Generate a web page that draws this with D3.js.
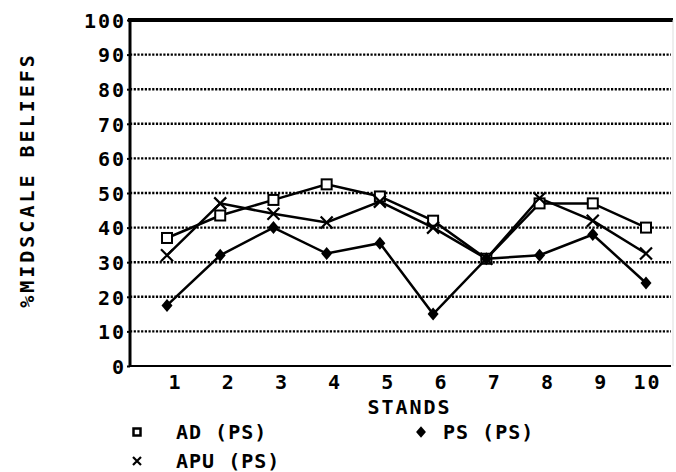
<!DOCTYPE html>
<html>
<head>
<meta charset="utf-8">
<script src="https://cdn.jsdelivr.net/npm/d3@7"></script>
<style>
  body { margin: 0; background: #fff; }
  text { font-family: "DejaVu Sans Mono", monospace; font-weight: bold; fill: #000; }
</style>
</head>
<body>
<div id="chart"></div>
<script>
// data
let stands = [1, 2, 3, 4, 5, 6, 7, 8, 9, 10];
let adPS  = [37, 43.5, 48, 52.5, 49, 42, 31, 47, 47, 40];
let apuPS = [32, 47, 44, 41.5, 47.5, 40, 31, 48.5, 42, 32.5];
let psPS  = [17.5, 32, 40, 32.5, 35.5, 15, 31, 32, 38, 24];
let yTicks = [0, 10, 20, 30, 40, 50, 60, 70, 80, 90, 100];

let svgWidth = 676;
let svgHeight = 472;

let margin = { top: 20, right: 5, bottom: 106, left: 130 };
let width = svgWidth - margin.left - margin.right;
let height = svgHeight - margin.top - margin.bottom;

let svg = d3.select("#chart")
    .append("svg")
    .attr("width", svgWidth)
    .attr("height", svgHeight);

let chartGroup = svg.append("g")
    .attr("transform", `translate(${margin.left}, ${margin.top})`);

// scales
let xScale = d3.scaleLinear()
    .domain([1, 10])
    .range([37, 516]);

let yScale = d3.scaleLinear()
    .domain([0, 100])
    .range([height, 0]);

// dotted gridlines
chartGroup.selectAll(".grid")
    .data(yTicks.filter(d => d > 0 && d < 100))
    .join("line")
    .attr("x1", 0)
    .attr("x2", width)
    .attr("y1", d => yScale(d))
    .attr("y2", d => yScale(d))
    .attr("stroke", "#000")
    .attr("stroke-width", 2.4)
    .attr("stroke-dasharray", "2.2 1.5");

// frame: heavy top, left axis, bottom axis
chartGroup.append("line")
    .attr("x1", -2).attr("x2", width + 2)
    .attr("y1", yScale(100)).attr("y2", yScale(100))
    .attr("stroke", "#000").attr("stroke-width", 4);

chartGroup.append("line")
    .attr("x1", width + 2).attr("x2", width + 2)
    .attr("y1", yScale(100)).attr("y2", height)
    .attr("stroke", "#ddd").attr("stroke-width", 1);

chartGroup.append("line")
    .attr("x1", 0).attr("x2", width)
    .attr("y1", height).attr("y2", height)
    .attr("stroke", "#000").attr("stroke-width", 2);

// y axis
let leftAxis = d3.axisLeft(yScale).tickValues(yTicks).tickSize(3).tickPadding(1);
let yAxisG = chartGroup.append("g").call(leftAxis);
yAxisG.select(".domain").remove();
yAxisG.selectAll("line").attr("stroke", "#000").attr("stroke-width", 2);
yAxisG.selectAll("text")
    .attr("font-size", 20)
    .attr("font-family", "DejaVu Sans Mono")
    .attr("font-weight", "bold")
    .style("letter-spacing", "2px")
    .attr("dy", "0.36em")
    .attr("fill", "#000");

chartGroup.append("line")
    .attr("x1", 0).attr("x2", 0)
    .attr("y1", yScale(100) - 2).attr("y2", height + 1)
    .attr("stroke", "#000").attr("stroke-width", 3);

// x axis
let bottomAxis = d3.axisBottom(xScale).tickValues(stands).tickSize(0).tickPadding(9);
let xAxisG = chartGroup.append("g")
    .attr("transform", `translate(0, ${height})`)
    .call(bottomAxis);
xAxisG.select(".domain").remove();
xAxisG.selectAll("text")
    .attr("font-size", 20)
    .attr("font-family", "DejaVu Sans Mono")
    .attr("font-weight", "bold")
    .attr("text-anchor", "end")
    .attr("dx", 15)
    .style("letter-spacing", "2px")
    .attr("fill", "#000");

// axis titles
chartGroup.append("text")
    .attr("x", xScale(5.5) + 3)
    .attr("y", height + 48)
    .attr("text-anchor", "middle")
    .attr("font-size", 20)
    .style("letter-spacing", "2px")
    .text("STANDS");

svg.append("text")
    .attr("transform", "translate(34, 180) rotate(-90)")
    .attr("text-anchor", "middle")
    .attr("font-size", 20)
    .style("letter-spacing", "3px")
    .text("%MIDSCALE BELIEFS");

// lines
let series = [
    { name: "AD (PS)", values: adPS, symbol: "square" },
    { name: "APU (PS)", values: apuPS, symbol: "cross" },
    { name: "PS (PS)", values: psPS, symbol: "diamond" }
];

let line = d3.line()
    .x((d, i) => xScale(stands[i]))
    .y(d => yScale(d));

chartGroup.selectAll(".series")
    .data(series)
    .join("path")
    .attr("d", d => line(d.values))
    .attr("fill", "none")
    .attr("stroke", "#000")
    .attr("stroke-width", 2.5);

function drawMarker(g, symbol, cx, cy, s) {
    if (symbol === "square") {
        g.append("rect")
            .attr("x", cx - s / 2).attr("y", cy - s / 2)
            .attr("width", s).attr("height", s)
            .attr("fill", "#fff").attr("stroke", "#000").attr("stroke-width", 2);
    } else if (symbol === "diamond") {
        g.append("path")
            .attr("d", `M${cx},${cy - s * 0.65}L${cx + s * 0.55},${cy}L${cx},${cy + s * 0.65}L${cx - s * 0.55},${cy}Z`)
            .attr("fill", "#000");
    } else {
        g.append("path")
            .attr("d", `M${cx - s / 2},${cy - s / 2}L${cx + s / 2},${cy + s / 2}M${cx + s / 2},${cy - s / 2}L${cx - s / 2},${cy + s / 2}`)
            .attr("stroke", "#000").attr("stroke-width", 2.2);
    }
}

series.forEach(s => {
    let g = chartGroup.append("g");
    s.values.forEach((v, i) => drawMarker(g, s.symbol, xScale(stands[i]), yScale(v), s.symbol === "cross" ? 12 : 10));
});

// legend
let legendPos = [
    { x: 137, y: 432 },
    { x: 137, y: 461 },
    { x: 421, y: 432 }
];

series.forEach((s, i) => {
    let p = legendPos[i];
    let g = svg.append("g");
    if (s.symbol === "square") {
        g.append("rect")
            .attr("x", p.x - 3.5).attr("y", p.y - 3.5)
            .attr("width", 7).attr("height", 7)
            .attr("fill", "#fff").attr("stroke", "#000").attr("stroke-width", 2.5);
    } else {
        drawMarker(g, s.symbol, p.x, p.y, s.symbol === "cross" ? 8 : 9);
    }
    g.append("text")
        .attr("x", p.x + (i === 2 ? 22 : 39))
        .attr("y", p.y + 7)
        .attr("font-size", 20)
        .style("letter-spacing", "1px")
        .text(s.name);
});
</script>
</body>
</html>
